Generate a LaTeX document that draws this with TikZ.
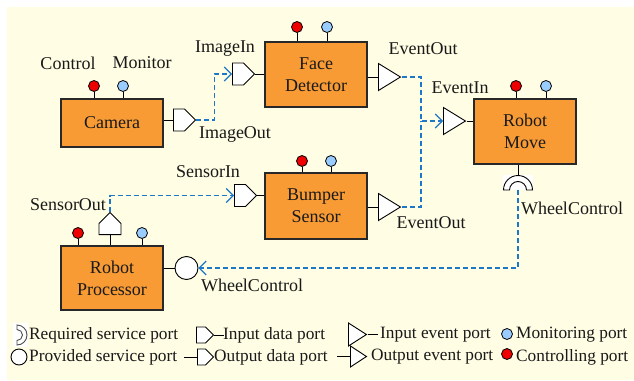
\documentclass[tikz,border=0pt]{standalone}
\usepackage{fontspec}
\setmainfont{Liberation Serif}
\usetikzlibrary{shapes.geometric,shapes.symbols,arrows.meta,calc}
\definecolor{bgyellow}{RGB}{255,253,228}
\definecolor{boxorange}{RGB}{248,155,52}
\definecolor{linkblue}{RGB}{30,120,200}
\definecolor{monblue}{RGB}{153,204,255}
\definecolor{ctlred}{RGB}{238,0,0}
\definecolor{edge}{RGB}{40,40,40}
\definecolor{ink}{RGB}{25,25,25}

\begin{document}
\begin{tikzpicture}[x=1pt,y=-1pt,
  comp/.style={draw=edge, line width=1.3pt, fill=boxorange, minimum width=102pt,
    inner sep=0, align=center, font=\fontsize{18}{22}\selectfont, text=ink},
  dport/.style={signal, signal to=east, signal pointer angle=90, draw=black, line width=0.9pt,
    fill=white, inner sep=0, minimum width=22pt, minimum height=22pt},
  eport/.style={isosceles triangle, isosceles triangle stretches, draw=black,
    line width=0.9pt, fill=white, inner sep=0, minimum width=27pt, minimum height=22pt},
  pport/.style={circle, draw=black, line width=0.9pt, fill=white, inner sep=0},
  mon/.style={circle, draw=black, line width=0.8pt, fill=monblue, inner sep=0, minimum size=11pt},
  ctl/.style={circle, draw=black, line width=0.8pt, fill=ctlred, inner sep=0, minimum size=11pt},
  stem/.style={draw=black, line width=0.9pt},
  link/.style={draw=linkblue, line width=1.1pt, dash pattern=on 5pt off 3pt},
  linkarrow/.style={link, -{Straight Barb[length=7pt,width=14pt,line width=1.1pt]}},
  lbl/.style={font=\fontsize{18}{22}\selectfont, inner sep=0, text=ink},
  legtext/.style={font=\fontsize{17.3}{20}\selectfont, inner sep=0, anchor=west, text=ink},
]
\useasboundingbox (0,0) rectangle (634,380);
\fill[bgyellow] (7,7) rectangle (634,380);

% components
\node[comp, minimum height=48pt] (cam)  at (112,123)   {Camera};
\node[comp, minimum height=65pt] (face) at (316,74.5)  {Face\\Detector};
\node[comp, minimum height=66pt] (bump) at (316,206)   {Bumper\\Sensor};
\node[comp, minimum height=65pt] (move) at (525,131.5) {Robot\\Move};
\node[comp, minimum height=64pt] (proc) at (112,278)   {Robot\\Processor};

% controlling / monitoring ports
\foreach \c/\xa/\xb/\y in {cam/94/123/86, face/297/327/27, bump/302/331/161,
                           move/516/546/86, proc/78/142/233}{
  \node[ctl] (\c Ctl) at (\xa,\y) {};
  \node[mon] (\c Mon) at (\xb,\y) {};
  \draw[stem] (\c Ctl.south) -- (\c Ctl.south |- \c.north);
  \draw[stem] (\c Mon.south) -- (\c Mon.south |- \c.north);
}

% data ports
\node[dport, anchor=west] (camOut) at (173,120) {};
\draw[stem] (cam.east |- camOut.west) -- (camOut.west);
\node[dport, anchor=west] (faceIn) at (232,74) {};
\draw[stem] (faceIn.east) -- (faceIn.east -| face.west);
\node[dport, anchor=west] (bumpIn) at (234,195.5) {};
\draw[stem] (bumpIn.east) -- (bumpIn.east -| bump.west);
\node[dport, rotate=90, anchor=west] (procOut) at (110,235) {};
\draw[stem] (procOut.west) -- (procOut.west |- proc.north);

% event ports
\node[eport, anchor=lower side] (faceOut) at (378,77) {};
\draw[stem] (face.east |- faceOut.lower side) -- (faceOut.lower side);
\node[eport, anchor=lower side] (bumpOut) at (378,207) {};
\draw[stem] (bump.east |- bumpOut.lower side) -- (bumpOut.lower side);
\node[eport, anchor=lower side] (moveIn) at (443,121) {};
\draw[stem] (moveIn.apex) -- (moveIn.apex -| move.west);

% provided service port
\node[pport, minimum size=23pt] (procProv) at (186.5,268) {};
\draw[stem] (proc.east |- procProv.west) -- (procProv.west);

% required service port
\coordinate (moveReq) at (518,190);
\fill[white] (503,175) rectangle (533,190);
\draw[stem] (moveReq |- move.south) -- ($(moveReq)+(0,-14.5)$);
\draw[black, line width=0.9pt, fill=white]
  ($(moveReq)+(-14.5,0)$) arc[start angle=180, end angle=360, radius=14.5]
  -- ++(-6,0) arc[start angle=360, end angle=180, radius=8.5] -- cycle;

% connectors
\coordinate (evBus) at (421,121);
\draw[linkarrow] (camOut.east) -- ++(18,0) |- (faceIn.west);
\draw[linkarrow] (faceOut.apex) -| (evBus) -- (moveIn.lower side);
\draw[link] (bumpOut.apex) -| (evBus);
\draw[linkarrow] (procOut.east) |- (bumpIn.west);
\draw[linkarrow] (moveReq) |- (procProv.east);

% port labels
\node[lbl] (lControl) at (68,63) {Control};
\node[lbl] (lMonitor) at (142,63) {Monitor};
\node[lbl] (lImgOut) at (235,134) {ImageOut};
\node[lbl] (lImgIn) at (225,49) {ImageIn};
\node[lbl] (lFaceEv) at (423,49) {EventOut};
\node[lbl] (lEvIn) at (460,88) {EventIn};
\node[lbl] (lSensIn) at (208,172) {SensorIn};
\node[lbl] (lBumpEv) at (431,223) {EventOut};
\node[lbl] (lWheelR) at (572,208) {WheelControl};
\node[lbl] (lSensOut) at (68,205) {SensorOut};
\node[lbl] (lWheelL) at (252,285) {WheelControl};

% legend
\fill[white] (13,323) rectangle (28,347);
\draw[black!70, line width=0.9pt, fill=white]
  (17,325) arc[start angle=-90, end angle=90, radius=10]
  -- ++(0,-4.5) arc[start angle=90, end angle=-90, radius=5.5] -- cycle;
\node[legtext] (lgReq) at (29,335) {Required service port};
\node[pport, minimum size=16pt] (lgProvIcon) at (19,357) {};
\node[legtext] (lgProv) at (29,357) {Provided service port};

\node[dport, anchor=west, minimum width=17pt, minimum height=16pt] (lgInD) at (196,335) {};
\draw[stem] (lgInD.east) -- ++(10,0);
\node[legtext] (lgInDt) at (223,335) {Input data port};
\node[dport, anchor=west, minimum width=16pt, minimum height=16pt] (lgOutD) at (197,357) {};
\draw[stem] (lgOutD.west) -- ++(-13,0);
\node[legtext] (lgOutDt) at (214,357) {Output data port};

\node[eport, anchor=lower side, minimum width=23pt, minimum height=18pt] (lgInE) at (348,334.5) {};
\draw[stem] (lgInE.apex) -- ++(10,0);
\node[legtext] (lgInEt) at (380,335) {Input event port};
\node[eport, anchor=lower side, minimum width=21pt, minimum height=16pt] (lgOutE) at (350,356.5) {};
\draw[stem] (lgOutE.lower side) -- ++(-13,0);
\node[legtext] (lgOutEt) at (371,357) {Output event port};

\node[mon] (lgMonIcon) at (507,334) {};
\node[legtext] (lgMon) at (516,335) {Monitoring port};
\node[ctl] (lgCtlIcon) at (507,354) {};
\node[legtext] (lgCtl) at (516,357) {Controlling port};
\end{tikzpicture}
\end{document}
